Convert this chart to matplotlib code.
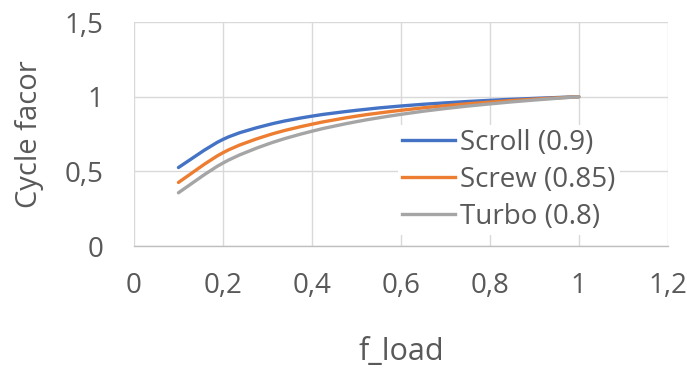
import matplotlib.pyplot as plt
from matplotlib.path import Path
from matplotlib.patches import PathPatch
from matplotlib.lines import Line2D

plt.rcParams['font.family'] = ['Open Sans', 'DejaVu Sans']

# part-load points
f_load = [0.1, 0.2, 0.3, 0.4, 0.5, 0.6, 0.7, 0.8, 0.9, 1.0]
scroll = [0.526, 0.714, 0.811, 0.870, 0.909, 0.938, 0.959, 0.976, 0.989, 1.0]
screw = [0.426, 0.625, 0.741, 0.816, 0.870, 0.909, 0.940, 0.964, 0.984, 1.0]
turbo = [0.357, 0.556, 0.682, 0.769, 0.833, 0.882, 0.921, 0.952, 0.978, 1.0]

labels = ['Scroll (0.9)', 'Screw (0.85)', 'Turbo (0.8)']
colors = ['#4472C4', '#ED7D31', '#A5A5A5']

xticks = [0, 0.2, 0.4, 0.6, 0.8, 1, 1.2]
yticks = [0, 0.5, 1, 1.5]


def smooth_path(xs, ys):
    # spreadsheet-style smoothed line: cubic bezier through every point
    pts = list(zip(xs, ys))
    n = len(pts)
    verts = [pts[0]]
    codes = [Path.MOVETO]
    for i in range(n - 1):
        p0 = pts[max(i - 1, 0)]
        p1 = pts[i]
        p2 = pts[i + 1]
        p3 = pts[min(i + 2, n - 1)]
        c1 = (p1[0] + (p2[0] - p0[0]) / 6, p1[1] + (p2[1] - p0[1]) / 6)
        c2 = (p2[0] - (p3[0] - p1[0]) / 6, p2[1] - (p3[1] - p1[1]) / 6)
        verts += [c1, c2, p2]
        codes += [Path.CURVE4] * 3
    return Path(verts, codes)


fig = plt.figure(figsize=(6.87, 3.74), dpi=100)
ax = fig.add_axes([0.195, 0.342, 0.777, 0.599])

handles = []
for ys, lab, c in zip([scroll, screw, turbo], labels, colors):
    ax.add_patch(PathPatch(smooth_path(f_load, ys), fill=False, edgecolor=c,
                           lw=2.4, capstyle='round', zorder=3))
    handles.append(Line2D([], [], color=c, lw=2.4, label=lab))

ax.set_xlim(0, 1.2)
ax.set_ylim(0, 1.5)
ax.set_xticks(xticks)
ax.set_yticks(yticks)
ax.set_xticklabels([f'{v:g}'.replace('.', ',') for v in xticks])
ax.set_yticklabels([f'{v:g}'.replace('.', ',') for v in yticks])
ax.tick_params(length=0, labelsize=20, colors='#595959')
ax.tick_params(axis='x', pad=19)
ax.tick_params(axis='y', pad=22)
ax.grid(True, color='#D9D9D9', lw=1)
ax.set_axisbelow(True)
for s in ['top', 'right', 'left']:
    ax.spines[s].set_visible(False)
ax.spines['bottom'].set_color('#BFBFBF')
ax.spines['bottom'].set_linewidth(1)

ax.set_xlabel('f_load', fontsize=22, color='#595959', labelpad=26)
ax.set_ylabel('Cycle facor', fontsize=21, color='#595959', labelpad=15)

leg = ax.legend(handles=handles, loc='center left', bbox_to_anchor=(0.468, 0.295),
                fontsize=20, frameon=True, fancybox=False, edgecolor='none',
                framealpha=1, handlelength=1.9, handletextpad=0.2,
                labelspacing=0.32, borderpad=0.15, labelcolor='#595959')

fig.savefig('out.png', dpi=100)
